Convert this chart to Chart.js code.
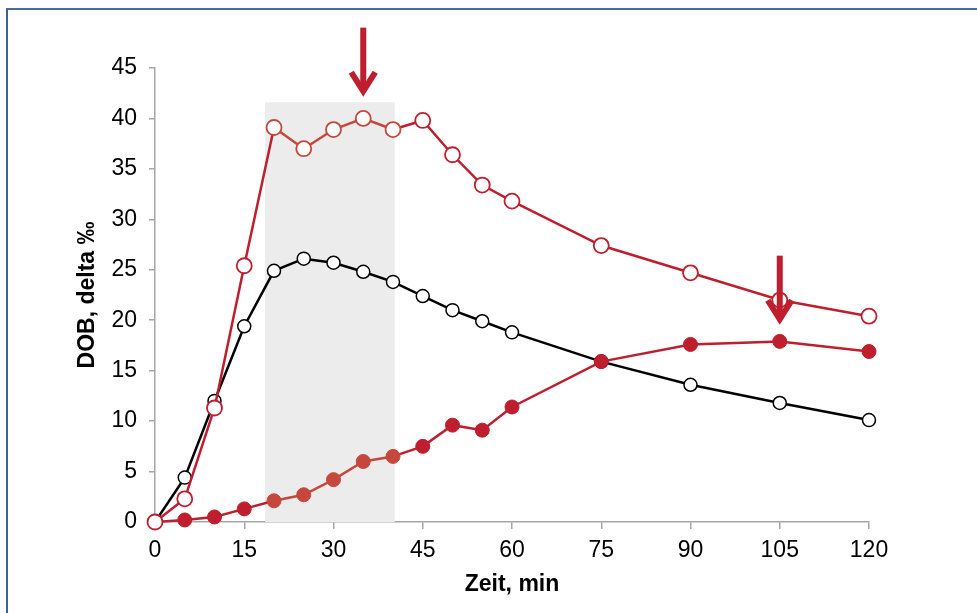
<!DOCTYPE html>
<html>
<head>
<meta charset="utf-8">
<script src="https://cdn.jsdelivr.net/npm/chart.js@4.4.1/dist/chart.umd.min.js"></script>
<style>
  html, body { margin: 0; padding: 0; background: #fff; }
  #wrap { position: relative; width: 977px; height: 613px; }
  #frame {
    position: absolute; left: 6px; top: 8px; right: 0; bottom: 0;
    border-top: 2px solid #4a6b9e; border-left: 2px solid #3d5f96;
    pointer-events: none;
  }
</style>
</head>
<body>
<div id="wrap">
  <canvas id="chart"></canvas>
  <div id="frame"></div>
</div>
<script>
// time points (min)
const zeit = [0, 5, 10, 15, 20, 25, 30, 35, 40, 45, 50, 55, 60, 75, 90, 105, 120];
// DOB values, delta ‰
const redOpen   = [0, 2.3, 11.3, 25.4, 39.1, 37.0, 38.9, 40.0, 38.9, 39.8, 36.4, 33.4, 31.8, 27.4, 24.7, 22.0, 20.4];
const blackOpen = [0, 4.4, 12.0, 19.4, 24.9, 26.1, 25.7, 24.8, 23.8, 22.4, 21.0, 19.9, 18.8, 15.9, 13.6, 11.8, 10.1];
const redFilled = [0, 0.2, 0.5, 1.3, 2.1, 2.7, 4.2, 6.0, 6.5, 7.5, 9.6, 9.1, 11.4, 15.9, 17.6, 17.9, 16.9];

const xTicks = [0, 15, 30, 45, 60, 75, 90, 105, 120];

// shaded window and arrows (data units)
const shade = { x0: 18.5, x1: 40.3, y1: 41.6 };
const arrows = [
  { x: 35, yTop: 49.0, yTip: 42.3 },
  { x: 105, yTop: 26.4, yTip: 19.7 }
];

const RED = '#be1e2d';
const RED_SOFT = '#c6473b';

function pairs(ys) {
  return zeit.map((x, i) => ({ x: x, y: ys[i] }));
}
function inShade(x) { return x >= shade.x0 && x <= shade.x1; }

const shadePlugin = {
  id: 'shade',
  beforeDatasetsDraw(chart) {
    const { ctx, scales: { x, y } } = chart;
    ctx.save();
    ctx.fillStyle = '#ececec';
    const px0 = x.getPixelForValue(shade.x0), px1 = x.getPixelForValue(shade.x1);
    const py0 = y.getPixelForValue(0), py1 = y.getPixelForValue(shade.y1);
    ctx.fillRect(px0, py1, px1 - px0, py0 - py1);
    ctx.restore();
  }
};

const arrowPlugin = {
  id: 'arrows',
  afterDatasetsDraw(chart) {
    const { ctx, scales: { x, y } } = chart;
    ctx.save();
    ctx.strokeStyle = RED;
    ctx.lineWidth = 6;
    arrows.forEach(a => {
      const px = x.getPixelForValue(a.x);
      const top = y.getPixelForValue(a.yTop);
      const tip = y.getPixelForValue(a.yTip);
      ctx.lineCap = 'butt';
      ctx.beginPath();
      ctx.moveTo(px, top);
      ctx.lineTo(px, tip - 4);
      ctx.stroke();
      ctx.lineJoin = 'miter';
      ctx.beginPath();
      ctx.moveTo(px - 12, tip - 23);
      ctx.lineTo(px, tip - 4);
      ctx.lineTo(px + 12, tip - 23);
      ctx.stroke();
    });
    ctx.restore();
  }
};

new Chart(document.getElementById('chart'), {
  type: 'line',
  data: {
    datasets: [
      {
        data: pairs(redFilled),
        order: 2,
        clip: false,
        borderColor: RED,
        borderWidth: 2.5,
        pointRadius: 7,
        pointBorderWidth: 1,
        pointBackgroundColor: zeit.map(t => inShade(t) && t > 0 ? RED_SOFT : RED),
        pointBorderColor: zeit.map(t => inShade(t) && t > 0 ? RED_SOFT : RED),
        segment: { borderColor: c => inShade(c.p0.parsed.x) && inShade(c.p1.parsed.x) ? RED_SOFT : RED }
      },
      {
        data: pairs(redOpen),
        order: 1,
        clip: false,
        borderColor: RED,
        borderWidth: 2.5,
        pointRadius: 7.5,
        pointBorderWidth: 1.8,
        pointBackgroundColor: '#ffffff',
        pointBorderColor: zeit.map(t => inShade(t) ? RED_SOFT : RED),
        segment: { borderColor: c => inShade(c.p0.parsed.x) && inShade(c.p1.parsed.x) ? RED_SOFT : RED }
      },
      {
        data: pairs(blackOpen),
        order: 3,
        clip: false,
        borderColor: '#000000',
        borderWidth: 2.5,
        pointRadius: 6.5,
        pointBorderWidth: 1.5,
        pointBackgroundColor: '#ffffff',
        pointBorderColor: '#000000'
      }
    ]
  },
  options: {
    responsive: true,
    maintainAspectRatio: false,
    animation: false,
    layout: { padding: { left: 70, right: 108, top: 68, bottom: 11 } },
    plugins: { legend: { display: false }, tooltip: { enabled: false } },
    scales: {
      x: {
        type: 'linear',
        min: 0, max: 120,
        afterFit: s => { s.height = 80; },
        afterBuildTicks: s => { s.ticks = xTicks.map(v => ({ value: v })); },
        grid: { drawOnChartArea: false, drawTicks: true, tickLength: 7, color: '#a6a6a6', lineWidth: 1.5 },
        border: { display: true, color: '#a6a6a6', width: 1.5 },
        ticks: { color: '#000', padding: 8, font: { family: 'Liberation Sans, Arial, sans-serif', size: 23 } },
        title: {
          display: true, text: 'Zeit, min', color: '#000',
          font: { family: 'Liberation Sans, Arial, sans-serif', size: 23, weight: 'bold' }
        }
      },
      y: {
        min: 0, max: 45,
        afterFit: s => { s.width = 85; },
        grid: { drawOnChartArea: false, drawTicks: true, tickLength: 6, color: '#a6a6a6', lineWidth: 1.5 },
        border: { display: true, color: '#a6a6a6', width: 1.5 },
        ticks: { stepSize: 5, color: '#000', padding: 12, font: { family: 'Liberation Sans, Arial, sans-serif', size: 23 } },
        title: {
          display: true, text: 'DOB, delta ‰', color: '#000',
          font: { family: 'Liberation Sans, Arial, sans-serif', size: 23, weight: 'bold' }
        }
      }
    }
  },
  plugins: [shadePlugin, arrowPlugin]
});
</script>
</body>
</html>
